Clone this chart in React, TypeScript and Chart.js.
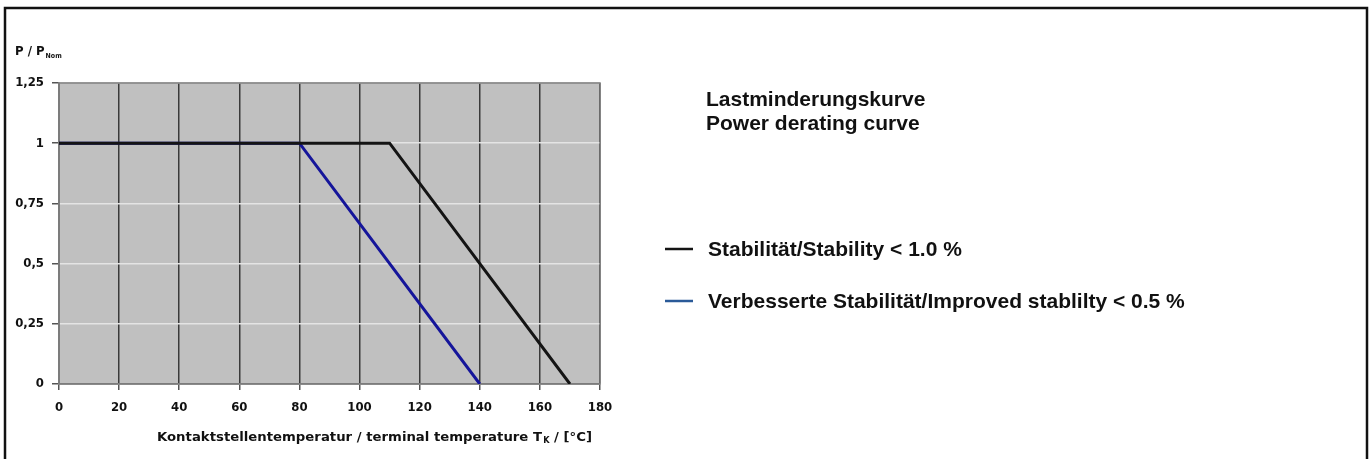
import React, { useEffect, useRef } from "react";
import { Chart, registerables } from "chart.js";

Chart.register(...registerables);

// ---- data ----
const standardTemps = [0, 110, 170];
const standardPower = [1, 1, 0];
const improvedTemps = [0, 80, 140];
const improvedPower = [1, 1, 0];

const xTickValues = [0, 20, 40, 60, 80, 100, 120, 140, 160, 180];
const yTickValues = [0, 0.25, 0.5, 0.75, 1, 1.25];
const yTickLabels = ["0", "0,25", "0,5", "0,75", "1", "1,25"];

const seriesLabels = [
  "Stabilität/Stability < 1.0 %",
  "Verbesserte Stabilität/Improved stablilty < 0.5 %",
];
const seriesColors = ["#141414", "#15159a"];
const legendColors = ["#141414", "#2a5a98"];

const titleLines = ["Lastminderungskurve", "Power derating curve"];
const yAxisLabel = ["P / P", "Nom"];
const xAxisLabel = ["Kontaktstellentemperatur / terminal temperature T", "K", " / [°C]"];

const NARROW = "'Liberation Sans Narrow', 'Arial Narrow', 'DejaVu Sans Condensed', sans-serif";
const SANS = "'Liberation Sans', Arial, sans-serif";

const decorPlugin = {
  id: "decor",
  beforeDraw(chart: any) {
    const { ctx, chartArea, width, height } = chart;
    ctx.save();
    ctx.fillStyle = "#ffffff";
    ctx.fillRect(0, 0, width, height);
    ctx.fillStyle = "#c0c0c0";
    ctx.fillRect(chartArea.left, chartArea.top, chartArea.right - chartArea.left, chartArea.bottom - chartArea.top);
    ctx.restore();
  },
  beforeDatasetsDraw(chart: any) {
    const { ctx, chartArea } = chart;
    ctx.save();
    ctx.strokeStyle = "#7c7c7c";
    ctx.lineWidth = 1.5;
    ctx.strokeRect(chartArea.left, chartArea.top, chartArea.right - chartArea.left, chartArea.bottom - chartArea.top);
    ctx.restore();
  },
  afterDraw(chart: any) {
    const { ctx, width, height } = chart;
    ctx.save();
    // outer frame
    ctx.strokeStyle = "#111111";
    ctx.lineWidth = 2.5;
    ctx.beginPath();
    ctx.moveTo(5, height + 5);
    ctx.lineTo(5, 8);
    ctx.lineTo(width - 5, 8);
    ctx.lineTo(width - 5, height + 5);
    ctx.stroke();

    ctx.fillStyle = "#111111";
    ctx.textBaseline = "alphabetic";
    ctx.textAlign = "left";

    // y axis label P / P_Nom
    ctx.font = `bold 13px ${NARROW}`;
    ctx.fillText(yAxisLabel[0], 15, 55);
    const w0 = ctx.measureText(yAxisLabel[0]).width;
    ctx.font = `bold 7px ${NARROW}`;
    ctx.fillText(yAxisLabel[1], 15 + w0 + 1, 58);

    // x axis title with subscript, fitted between 157 and 592
    const startX = 157;
    const endX = 592;
    ctx.font = `bold 13px ${NARROW}`;
    const wa = ctx.measureText(xAxisLabel[0]).width;
    const wc = ctx.measureText(xAxisLabel[2]).width;
    ctx.font = `bold 8px ${NARROW}`;
    const wb = ctx.measureText(xAxisLabel[1]).width + 1;
    const sx = (endX - startX) / (wa + wb + wc);
    ctx.translate(startX, 0);
    ctx.scale(sx, 1);
    ctx.font = `bold 13px ${NARROW}`;
    ctx.fillText(xAxisLabel[0], 0, 441);
    ctx.font = `bold 8px ${NARROW}`;
    ctx.fillText(xAxisLabel[1], wa + 1, 443);
    ctx.font = `bold 13px ${NARROW}`;
    ctx.fillText(xAxisLabel[2], wa + wb, 441);
    ctx.setTransform(1, 0, 0, 1, 0, 0);

    // title
    ctx.font = `bold 21px ${SANS}`;
    ctx.fillText(titleLines[0], 706, 106);
    ctx.fillText(titleLines[1], 706, 130);

    // legend
    const rows = [249, 301];
    seriesLabels.forEach((label, i) => {
      const y = rows[i];
      ctx.strokeStyle = legendColors[i];
      ctx.lineWidth = 2.5;
      ctx.beginPath();
      ctx.moveTo(665, y);
      ctx.lineTo(693, y);
      ctx.stroke();
      ctx.font = `bold 21px ${SANS}`;
      ctx.fillStyle = "#111111";
      ctx.fillText(label, 708, y + 7);
    });
    ctx.restore();
  },
};

export default function App() {
  const canvasRef = useRef<HTMLCanvasElement | null>(null);

  useEffect(() => {
    if (!canvasRef.current) return;
    const chart = new Chart(canvasRef.current, {
      type: "scatter",
      data: {
        datasets: [
          {
            label: seriesLabels[0],
            data: standardTemps.map((t, i) => ({ x: t, y: standardPower[i] })),
            showLine: true,
            borderColor: seriesColors[0],
            backgroundColor: seriesColors[0],
            borderWidth: 3,
            pointRadius: 0,
            pointHoverRadius: 0,
            fill: false,
          },
          {
            label: seriesLabels[1],
            data: improvedTemps.map((t, i) => ({ x: t, y: improvedPower[i] })),
            showLine: true,
            borderColor: seriesColors[1],
            backgroundColor: seriesColors[1],
            borderWidth: 3,
            pointRadius: 0,
            pointHoverRadius: 0,
            fill: false,
          },
        ],
      },
      options: {
        responsive: false,
        animation: false,
        devicePixelRatio: 1,
        layout: { padding: { left: 14, top: 83, right: 772, bottom: 25 } },
        plugins: {
          legend: { display: false },
          tooltip: { enabled: false },
          title: { display: false },
        },
        scales: {
          x: {
            type: "linear",
            min: 0,
            max: 180,
            afterFit: (scale: any) => {
              scale.height = 50;
            },
            afterBuildTicks: (scale: any) => {
              scale.ticks = xTickValues.map((v) => ({ value: v }));
            },
            ticks: {
              padding: 10,
              color: "#111111",
              font: { family: NARROW, size: 13, weight: "bold" },
              maxRotation: 0,
              callback: (v: any) => String(v),
            },
            grid: {
              color: "#3a3a3a",
              lineWidth: 1.5,
              tickLength: 6,
              tickColor: "#555555",
            },
            border: { color: "#7c7c7c", width: 1.5 },
          },
          y: {
            type: "linear",
            min: 0,
            max: 1.25,
            afterFit: (scale: any) => {
              scale.width = 45;
            },
            afterBuildTicks: (scale: any) => {
              scale.ticks = yTickValues.map((v) => ({ value: v }));
            },
            ticks: {
              padding: 8,
              color: "#111111",
              font: { family: NARROW, size: 13, weight: "bold" },
              callback: (_v: any, i: number) => yTickLabels[i],
            },
            grid: {
              color: "#e4e4e4",
              lineWidth: 1.5,
              tickLength: 7,
              tickColor: "#555555",
            },
            border: { color: "#7c7c7c", width: 1.5 },
          },
        },
      },
      plugins: [decorPlugin],
    } as any);
    return () => chart.destroy();
  }, []);

  return (
    <div style={{ position: "fixed", left: 0, top: 0, width: 1372, height: 459, background: "#fff" }}>
      <canvas ref={canvasRef} width={1372} height={459} style={{ display: "block" }} />
    </div>
  );
}
